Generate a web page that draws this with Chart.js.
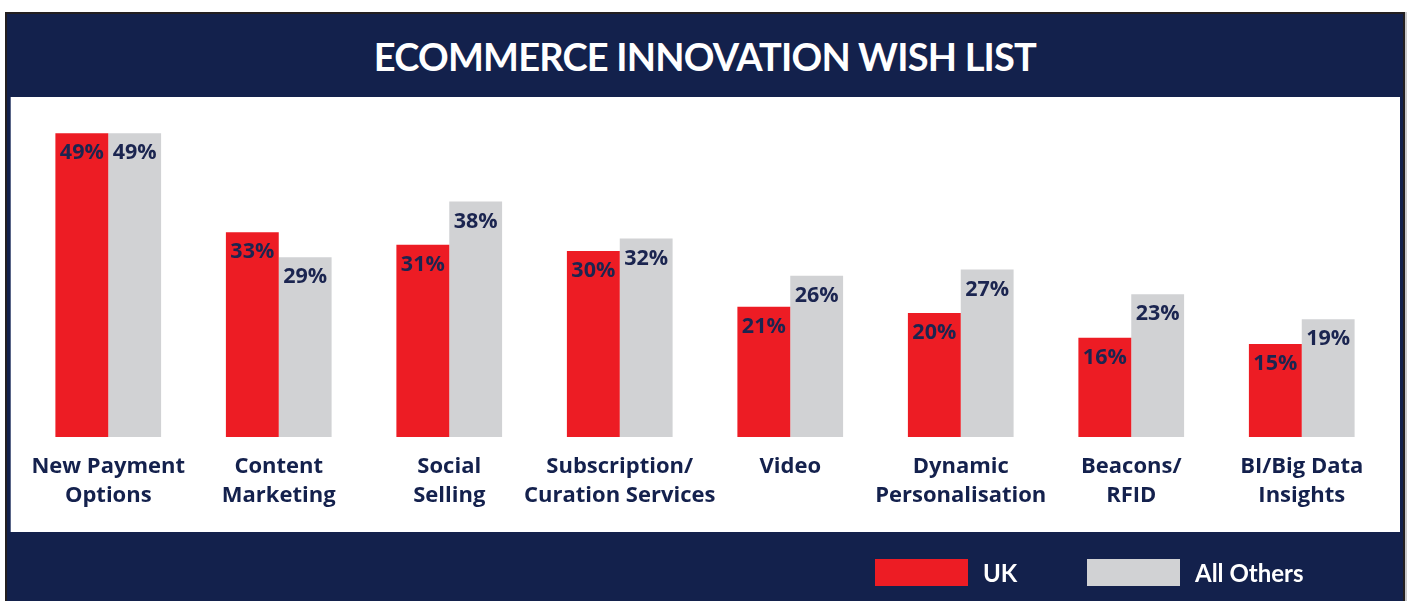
<!DOCTYPE html>
<html>
<head>
<meta charset="utf-8">
<script src="https://cdn.jsdelivr.net/npm/chart.js@4.4.1/dist/chart.umd.min.js"></script>
<style>
  html, body { margin: 0; padding: 0; background: #ffffff; }
  body { width: 1407px; height: 601px; position: relative; overflow: hidden; font-family: "Lato", "Open Sans", sans-serif; }
  #frame {
    position: absolute; left: 5px; top: 12px; width: 1396px; height: 600px;
    background: #13214c; border: 2px solid #231f20; border-bottom: none;
  }
  #edge { position: absolute; left: 1405px; top: 12px; width: 2px; height: 589px; background: #c9c9cb; }
  #panel { position: absolute; left: 10px; top: 97px; width: 1390px; height: 435px; background: #ffffff; border-left: 1px solid #5a6688; box-sizing: border-box; }
  #title {
    position: absolute; left: 5px; width: 1400px; top: 15px; height: 83px;
    line-height: 83px; text-align: center; color: #ffffff;
    font-weight: 700; font-size: 38px; letter-spacing: -0.8px;
  }
  #chartWrap { position: absolute; left: 0; top: 0; width: 1407px; height: 601px; }
  #legend { position: absolute; top: 559px; left: 0; width: 1407px; height: 27px; }
  .item { position: absolute; top: 0; height: 27px; }
  .swatch { position: absolute; left: 0; top: 0; width: 93px; height: 27px; }
  .label { position: absolute; left: 108px; top: 0; line-height: 27px; color: #ffffff; font-weight: 700; font-size: 24px; white-space: nowrap; }
</style>
</head>
<body>
<div id="frame"></div>
<div id="edge"></div>
<div id="panel"></div>
<div id="title">ECOMMERCE INNOVATION WISH LIST</div>
<div id="chartWrap"><canvas id="chart" width="1407" height="601"></canvas></div>
<div id="legend"></div>
<script>
// Survey categories (two-line labels)
const categories = [
  ["New Payment", "Options"],
  ["Content", "Marketing"],
  ["Social", "Selling"],
  ["Subscription/", "Curation Services"],
  ["Video"],
  ["Dynamic", "Personalisation"],
  ["Beacons/", "RFID"],
  ["BI/Big Data", "Insights"]
];
// Share of respondents (%)
const ukValues = [49, 33, 31, 30, 21, 20, 16, 15];
const othersValues = [49, 29, 38, 32, 26, 27, 23, 19];
const seriesNames = ["UK", "All Others"];
const seriesColors = ["#ed1c24", "#d1d2d4"];

const NAVY = "#14214d";

// Percent labels placed just inside the top of each bar
const barValueLabels = {
  id: "barValueLabels",
  afterDatasetsDraw(chart) {
    const ctx = chart.ctx;
    ctx.save();
    ctx.font = "700 21.5px 'Open Sans'";
    ctx.fillStyle = "#1b2550";
    ctx.textAlign = "center";
    ctx.textBaseline = "middle";
    chart.data.datasets.forEach((ds, di) => {
      const meta = chart.getDatasetMeta(di);
      meta.data.forEach((bar, i) => {
        ctx.fillText(ds.data[i] + "%", bar.x, bar.y + 20);
      });
    });
    ctx.restore();
  }
};

const chart = new Chart(document.getElementById("chart"), {
  type: "bar",
  data: {
    labels: categories,
    datasets: [
      { label: seriesNames[0], data: ukValues, backgroundColor: seriesColors[0] },
      { label: seriesNames[1], data: othersValues, backgroundColor: seriesColors[1] }
    ]
  },
  options: {
    responsive: false,
    animation: false,
    layout: { padding: { left: 23, right: 20, top: 114.6, bottom: 75 } },
    datasets: { bar: { categoryPercentage: 0.62, barPercentage: 1.0 } },
    plugins: { legend: { display: false }, title: { display: false }, tooltip: { enabled: false } },
    scales: {
      x: {
        grid: { display: false, drawTicks: false },
        border: { display: false },
        ticks: {
          color: NAVY,
          padding: 15.5,
          maxRotation: 0,
          autoSkip: false,
          font: { family: "'Open Sans'", weight: "700", size: 22, lineHeight: 1.32 }
        }
      },
      y: { display: false, min: 0, max: 52 }
    }
  },
  plugins: [barValueLabels]
});

// Legend built from the chart's datasets
const legendEl = document.getElementById("legend");
const legendX = [875, 1087];
chart.data.datasets.forEach((ds, i) => {
  const item = document.createElement("div");
  item.className = "item";
  item.style.left = legendX[i] + "px";
  const sw = document.createElement("div");
  sw.className = "swatch";
  sw.style.background = ds.backgroundColor;
  const lb = document.createElement("div");
  lb.className = "label";
  lb.textContent = ds.label;
  item.appendChild(sw);
  item.appendChild(lb);
  legendEl.appendChild(item);
});
</script>
</body>
</html>
